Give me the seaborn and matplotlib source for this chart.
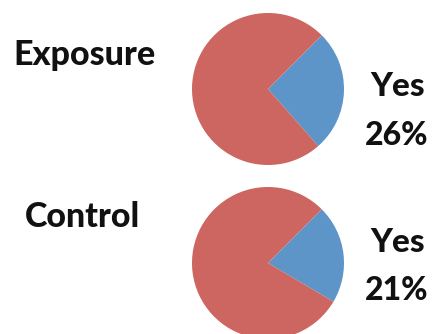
import matplotlib
matplotlib.use("Agg")
import matplotlib.pyplot as plt
import seaborn as sns

groups = ["Exposure", "Control"]
yes_pct = [26, 21]
slice_labels = ["Yes", "No"]
colors = ["#5E95C9", "#CD6660"]

sns.set_theme(style="white")
plt.rcParams['font.family'] = ['Lato', 'DejaVu Sans']

W, H = 433, 334
fig = plt.figure(figsize=(W / 100, H / 100), dpi=100)

R = 76
centers = [(268, 89), (268, 263)]
title_pos = [(84.5, 65), (82, 227)]   # center x, baseline y (pixels from top)
yes_pos = [(398, 96), (398, 252)]
pct_pos = [(397, 145), (397, 300)]

txt = dict(fontweight="black", color="#111111", ha="center", va="baseline")

for i, g in enumerate(groups):
    cx, cy = centers[i]
    ax = fig.add_axes([(cx - R) / W, (H - cy - R) / H, 2 * R / W, 2 * R / H])
    vals = [yes_pct[i], 100 - yes_pct[i]]
    ax.pie(vals, colors=colors, startangle=45, counterclock=False,
           radius=1, wedgeprops=dict(linewidth=0))
    ax.set_xlim(-1, 1)
    ax.set_ylim(-1, 1)
    ax.set_aspect("equal")
    ax.axis("off")
    tx, ty = title_pos[i]
    fig.text(tx / W, 1 - ty / H, g, fontsize=24.5, **txt)
    yx, yy = yes_pos[i]
    fig.text(yx / W, 1 - yy / H, slice_labels[0], fontsize=24, **txt)
    px, py = pct_pos[i]
    fig.text(px / W, 1 - py / H, f"{yes_pct[i]}%", fontsize=23, **txt)

fig.savefig("out.png", dpi=100, facecolor="white")
